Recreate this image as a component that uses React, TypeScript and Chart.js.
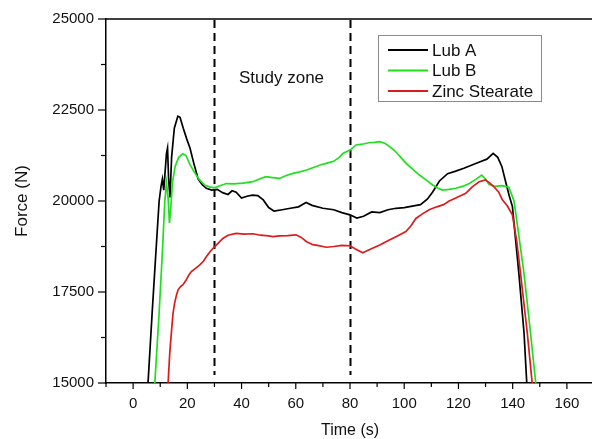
import React, { useEffect, useRef } from 'react';
import { Chart, registerables } from 'chart.js';

Chart.register(...registerables);

// ---- data ----
const seriesNames = ['Lub A', 'Lub B', 'Zinc Stearate'];
const seriesColors = ['#000000', '#1fe01f', '#dc1c1c'];

const lubATime = [4, 5.5, 7, 8.5, 9.6, 10.3, 10.8, 11.3, 11.8, 12.3, 12.7, 13.1, 13.6, 14.2, 15.2, 16.5, 17.3, 18.5, 19.8, 21, 22.5, 24, 25.5, 27, 29, 31, 33, 35, 36.5, 38, 40, 42, 44, 46, 48, 50, 52, 55, 58, 61, 63.8, 66, 70, 74, 77, 80, 82.5, 85, 88, 91, 94, 97, 100, 103, 106, 108.5, 110.5, 113, 116, 119, 122, 125, 128, 130.5, 132.8, 134.5, 136, 137.5, 138.7, 139.9, 141, 142.3, 144.2, 145.2, 146.5];
const lubAForce = [13500, 15000, 16900, 18700, 20000, 20400, 20600, 20300, 20800, 21300, 21450, 20600, 20100, 21200, 22000, 22330, 22300, 22000, 21700, 21450, 21000, 20600, 20450, 20350, 20300, 20320, 20230, 20180, 20280, 20240, 20080, 20130, 20160, 20150, 20030, 19820, 19720, 19760, 19800, 19840, 19960, 19880, 19800, 19760, 19680, 19620, 19530, 19580, 19700, 19680, 19760, 19800, 19820, 19860, 19900, 20050, 20250, 20550, 20750, 20820, 20900, 20990, 21080, 21150, 21310, 21200, 20950, 20500, 20150, 19850, 19000, 18000, 16370, 15000, 13500];

const lubBTime = [6.5, 8, 9.5, 10.8, 11.7, 12.3, 12.9, 13.4, 13.9, 14.5, 15.5, 16.8, 18.3, 19.5, 21, 22.5, 24.5, 26.5, 28.2, 30, 32, 34.4, 37, 40.5, 44.2, 47, 49, 51.5, 54, 56.5, 59, 61.5, 64, 66.5, 69, 71.5, 74, 76, 77.5, 80, 82.2, 84.5, 87, 89, 91, 93, 94.5, 96.5, 98.5, 100.6, 103, 105.5, 108, 110.5, 112.5, 114.1, 116.5, 119, 121.5, 124, 126.5, 128.6, 129.8, 131.3, 133.5, 136, 138.6, 140.5, 142, 144.2, 146.6, 148.5, 149.5];
const lubBForce = [13500, 15000, 16800, 18600, 20000, 20500, 20100, 19400, 19800, 20500, 20950, 21200, 21300, 21250, 21000, 20800, 20580, 20430, 20390, 20360, 20420, 20480, 20470, 20490, 20530, 20620, 20670, 20640, 20620, 20700, 20760, 20800, 20850, 20920, 20990, 21040, 21090, 21200, 21310, 21400, 21540, 21560, 21600, 21610, 21630, 21580, 21500, 21380, 21220, 21040, 20880, 20720, 20580, 20440, 20350, 20300, 20320, 20350, 20400, 20480, 20600, 20710, 20620, 20450, 20400, 20420, 20380, 20000, 19200, 18000, 16370, 15000, 14000];

const zincTime = [11.5, 12.9, 13.5, 14.1, 14.7, 15.3, 16, 16.6, 17.5, 18.4, 19.5, 20.5, 21.5, 23, 24.5, 26, 27, 28.5, 30, 31.5, 33.1, 35, 38, 41, 44.2, 47, 50, 51.5, 54, 57, 60.1, 62, 64, 66.3, 68, 71.3, 74, 77, 80, 82, 84.7, 86.5, 88.3, 91, 94.5, 97.5, 100.6, 102.5, 104.3, 107, 109.2, 112, 114.5, 116.6, 119, 122.7, 125, 127.6, 130, 131.5, 133.1, 134.8, 136.2, 138, 139.9, 141.5, 142.9, 145.4, 147.2, 148.2];
const zincForce = [13500, 15000, 15800, 16370, 16900, 17190, 17420, 17560, 17650, 17700, 17820, 17960, 18060, 18150, 18240, 18350, 18470, 18620, 18740, 18850, 18970, 19060, 19110, 19090, 19100, 19060, 19040, 19020, 19040, 19050, 19070, 19000, 18880, 18800, 18780, 18730, 18750, 18780, 18770, 18680, 18580, 18640, 18700, 18790, 18930, 19040, 19160, 19320, 19520, 19660, 19760, 19840, 19900, 20000, 20080, 20210, 20380, 20530, 20580, 20500, 20390, 20250, 20030, 19870, 19620, 18900, 18010, 16370, 15000, 14000];

const zoneBounds = [30, 80];
const zoneLabel = 'Study zone';
const xTitle = 'Time (s)';
const yTitle = 'Force (N)';
const xRange = [-10, 170];
const xTickStep = 10;
const xLabelStep = 20;
const yRange = [15000, 25000];
const yTickStep = 1250;
const yLabelStep = 2500;

const FONT = '"Liberation Sans", Arial, Helvetica, sans-serif';

const decorPlugin = {
  id: 'decor',
  beforeDatasetsDraw(chart: any) {
    const { ctx, chartArea, scales } = chart;
    const xs = scales.x;
    ctx.save();
    ctx.strokeStyle = '#000';
    ctx.lineWidth = 2;
    ctx.setLineDash([8, 5]);
    zoneBounds.forEach((v) => {
      const px = Math.round(xs.getPixelForValue(v)) + 0.5;
      ctx.beginPath();
      ctx.moveTo(px, chartArea.top + 1);
      ctx.lineTo(px, chartArea.bottom - 8);
      ctx.stroke();
    });
    ctx.setLineDash([]);
    ctx.fillStyle = '#111';
    ctx.font = `17px ${FONT}`;
    ctx.textAlign = 'left';
    ctx.textBaseline = 'middle';
    ctx.fillText(zoneLabel, 239, 78);
    ctx.restore();
  },
  afterDraw(chart: any) {
    const { ctx, chartArea, scales } = chart;
    const xs = scales.x;
    const ys = scales.y;
    ctx.save();
    ctx.strokeStyle = '#000';
    ctx.lineWidth = 1.3;
    // frame top and right
    ctx.beginPath();
    ctx.moveTo(chartArea.left, chartArea.top);
    ctx.lineTo(chartArea.right, chartArea.top);
    ctx.lineTo(chartArea.right, chartArea.bottom);
    ctx.stroke();
    // x ticks (major and minor)
    ctx.lineWidth = 1.2;
    for (let v = xRange[0]; v <= xRange[1]; v += xTickStep) {
      const px = xs.getPixelForValue(v);
      const len = v % xLabelStep === 0 ? 6 : 4;
      ctx.beginPath();
      ctx.moveTo(px, chartArea.bottom);
      ctx.lineTo(px, chartArea.bottom + len);
      ctx.stroke();
    }
    for (let v = yRange[0]; v <= yRange[1]; v += yTickStep) {
      const py = ys.getPixelForValue(v);
      const len = v % yLabelStep === 0 ? 8 : 5;
      ctx.beginPath();
      ctx.moveTo(chartArea.left - len, py);
      ctx.lineTo(chartArea.left, py);
      ctx.stroke();
    }
    // legend
    const bx = 378, by = 35, bw = 163, bh = 66;
    ctx.fillStyle = '#fff';
    ctx.fillRect(bx, by, bw, bh);
    ctx.strokeStyle = '#8a8a8a';
    ctx.lineWidth = 1;
    ctx.strokeRect(bx + 0.5, by + 0.5, bw, bh);
    const rows = [50, 70.5, 91];
    ctx.font = `17px ${FONT}`;
    ctx.textAlign = 'left';
    ctx.textBaseline = 'middle';
    seriesNames.forEach((name, i) => {
      ctx.strokeStyle = seriesColors[i];
      ctx.lineWidth = 2;
      ctx.beginPath();
      ctx.moveTo(388, rows[i]);
      ctx.lineTo(428, rows[i]);
      ctx.stroke();
      ctx.fillStyle = '#111';
      ctx.fillText(name, 432, rows[i] + 1);
    });
    ctx.restore();
  },
};

export default function App() {
  const canvasRef = useRef<HTMLCanvasElement | null>(null);

  useEffect(() => {
    if (!canvasRef.current) return;
    const mk = (t: number[], f: number[]) => t.map((x, i) => ({ x, y: f[i] }));
    const series = [mk(lubATime, lubAForce), mk(lubBTime, lubBForce), mk(zincTime, zincForce)];
    const chart = new Chart(canvasRef.current, {
      type: 'line',
      data: {
        datasets: series.map((d, i) => ({
          label: seriesNames[i],
          data: d,
          borderColor: seriesColors[i],
          backgroundColor: seriesColors[i],
          borderWidth: 1.7,
          pointRadius: 0,
          tension: 0,
          fill: false,
          order: 2 - i,
        })),
      },
      options: {
        responsive: false,
        maintainAspectRatio: false,
        devicePixelRatio: 1,
        animation: false,
        layout: { padding: { top: 19, right: 5, left: 0, bottom: 0 } },
        plugins: { legend: { display: false }, tooltip: { enabled: false } },
        scales: {
          x: {
            type: 'linear',
            min: xRange[0],
            max: xRange[1],
            afterFit: (s: any) => { s.height = 56; },
            ticks: {
              stepSize: xTickStep,
              autoSkip: false,
              maxRotation: 0,
              padding: 6,
              color: '#111',
              font: { family: FONT, size: 15 },
              callback: (v: any) => (Number(v) % xLabelStep === 0 ? String(v) : ''),
            },
            grid: { display: true, drawOnChartArea: false, drawTicks: true, tickLength: 6, color: 'rgba(0,0,0,0)' },
            border: { display: true, color: '#000', width: 1.5 },
            title: { display: true, text: xTitle, color: '#111', font: { family: FONT, size: 16, lineHeight: 1 }, padding: { top: 0, bottom: 0 } },
          },
          y: {
            type: 'linear',
            min: yRange[0],
            max: yRange[1],
            afterFit: (s: any) => { s.width = 106; },
            ticks: {
              stepSize: yTickStep,
              autoSkip: false,
              padding: 4,
              color: '#111',
              font: { family: FONT, size: 15 },
              callback: (v: any) => (Number(v) % yLabelStep === 0 ? String(v) : ''),
            },
            grid: { display: true, drawOnChartArea: false, drawTicks: true, tickLength: 8, color: 'rgba(0,0,0,0)' },
            border: { display: true, color: '#000', width: 1.5 },
            title: { display: true, text: yTitle, color: '#111', font: { family: FONT, size: 17, lineHeight: 1 }, padding: { top: 14, bottom: 0 } },
          },
        },
      },
      plugins: [decorPlugin],
    });
    return () => chart.destroy();
  }, []);

  return (
    <div style={{ position: 'fixed', left: 0, top: 0, width: 592, height: 439, overflow: 'hidden', background: '#fff' }}>
      <canvas ref={canvasRef} width={600} height={439} style={{ display: 'block', width: 600, height: 439 }} />
    </div>
  );
}
